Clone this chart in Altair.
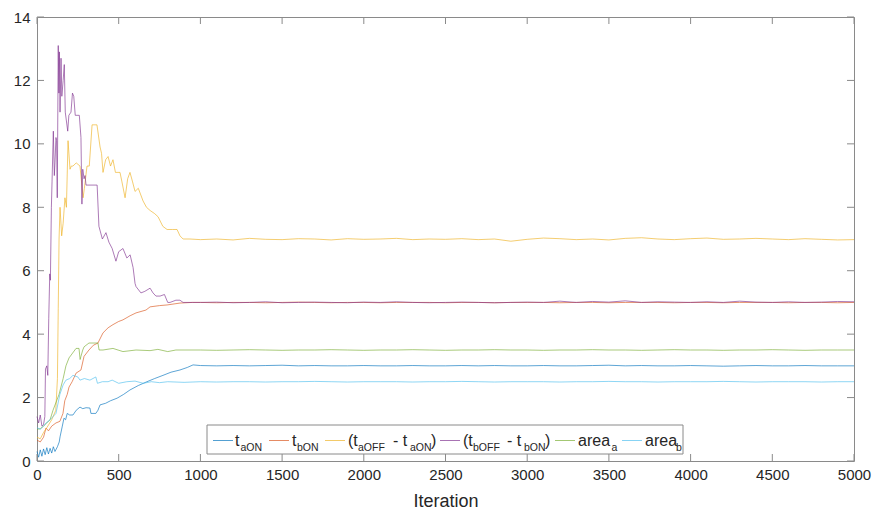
import altair as alt
import pandas as pd

# ---------------- data ----------------
series_names = ["t_aON", "t_bON", "(t_aOFF - t_aON)", "(t_bOFF - t_bON)", "area_a", "area_b"]
series_colors = ["#0072BD", "#D95319", "#EDB120", "#7E2F8E", "#77AC30", "#4DBEEE"]

blue_it = [0,10,20,30,40,50,60,70,80,90,100,110,125,136,141,155,165,175,185,200,220,240,263,280,300,324,330,360,373,386,420,450,490,530,569,620,673,720,771,820,875,920,955]
blue_val = [0.3,0.12,0.35,0.15,0.38,0.2,0.42,0.22,0.4,0.25,0.45,0.3,0.45,0.6,0.76,1.1,1.35,1.3,1.5,1.45,1.45,1.6,1.7,1.65,1.68,1.67,1.5,1.5,1.6,1.77,1.82,1.9,1.98,2.1,2.24,2.38,2.5,2.6,2.7,2.8,2.87,2.95,3.03]

orange_it = [0,20,40,55,70,90,116,140,159,170,185,196,215,239,269,288,318,345,373,404,435,465,500,526,570,606,667,692,750,796,875,950]
orange_val = [0.66,0.6,0.75,1.04,0.95,1.1,1.2,1.25,1.5,1.9,2.1,2.33,2.5,2.77,2.87,3.3,3.5,3.65,3.72,4.04,4.2,4.3,4.4,4.45,4.58,4.67,4.76,4.86,4.9,4.92,4.98,5.0]

yellow_it = [0,20,40,60,90,115,125,130,135,141,151,160,171,180,190,202,210,220,240,263,282,290,306,320,337,367,386,395,404,420,435,450,465,480,508,520,539,555,569,585,600,620,649,670,692,720,741,770,796,830,857,875,894,936]
yellow_val = [0.75,0.7,0.9,1.05,1.3,1.6,2.6,4.8,7.0,8.0,7.1,7.5,8.3,8.0,10.1,9.2,9.3,9.3,9.4,9.3,8.3,8.6,9.3,9.3,10.6,10.6,9.9,9.7,9.1,9.5,9.6,9.3,9.5,9.1,9.1,8.8,8.3,8.9,9.1,8.8,8.5,8.6,8.2,8.0,7.9,7.8,7.7,7.4,7.3,7.3,7.3,7.1,7.0,7.0]

purple_it = [0,10,20,30,40,48,52,60,66,72,78,82,88,92,100,106,110,116,120,124,130,134,137,141,147,152,160,167,173,188,195,208,217,225,234,259,269,275,280,288,294,300,361,368,379,400,422,440,460,483,500,526,550,570,588,600,606,636,660,692,710,728,753,780,800,814,850,875,894,950]
purple_val = [1.4,1.2,1.45,1.1,1.15,1.4,2.9,3.0,2.7,4.5,5.9,5.7,8.0,8.8,10.4,9.0,9.4,10.2,10.1,8.3,13.1,11.6,12.9,11.0,12.7,11.5,12.0,12.5,11.0,10.4,10.9,11.0,11.6,11.5,10.9,10.9,10.2,8.1,9.2,8.9,9.0,8.7,8.7,8.7,7.4,7.0,7.2,6.9,6.7,6.3,6.6,6.7,6.4,6.5,6.1,5.6,5.5,5.3,5.35,5.45,5.3,5.2,5.2,5.25,5.0,5.0,5.07,5.07,5.0,5.0]

green_it = [0,20,40,60,80,98,135,160,177,196,239,257,264,269,280,288,318,373,380,404,465,526,606,692,740,800,850,900]
green_val = [1.0,1.02,1.1,1.2,1.3,1.6,2.1,2.6,3.0,3.25,3.55,3.55,3.2,3.3,3.5,3.6,3.72,3.72,3.5,3.5,3.55,3.45,3.5,3.48,3.52,3.45,3.5,3.5]

lblue_it = [0,20,40,55,80,116,140,160,177,200,220,250,263,290,324,360,370,400,435,460,500,550,600,650,700,750,800,900]
lblue_val = [1.05,1.0,1.1,1.2,1.3,1.5,2.1,2.4,2.55,2.6,2.7,2.65,2.55,2.6,2.55,2.65,2.45,2.5,2.5,2.55,2.45,2.5,2.52,2.45,2.5,2.47,2.5,2.48]

# steady state, iterations 1000..5000 every 100
steady_it = list(range(1000, 5001, 100))
blue_ss = [3.01,3.0,3.01,3.0,3.01,3.02,3.0,3.01,3.0,3.0,3.01,3.0,3.0,3.01,3.0,3.0,3.01,3.0,3.01,3.0,3.0,3.01,3.0,3.0,3.01,3.02,3.0,3.01,3.0,3.0,3.01,3.0,2.99,3.0,3.01,3.0,3.0,3.01,3.0,3.0,3.0]
orange_ss = [5.0,4.99,5.0,5.0,4.99,5.0,5.01,5.0,4.99,5.0,5.0,4.99,5.0,5.0,5.0,4.99,5.0,5.0,4.99,5.0,5.0,5.0,4.99,5.0,5.0,4.99,5.0,5.0,5.0,4.99,5.0,5.0,4.99,5.0,5.0,5.0,4.99,5.0,5.0,4.99,5.0]
yellow_ss = [6.98,7.0,6.97,7.02,6.99,6.98,7.01,7.0,6.97,7.01,6.99,7.0,7.02,6.98,7.0,6.99,7.01,6.98,7.0,6.93,6.99,7.03,7.01,6.98,7.0,6.97,7.02,7.04,7.0,6.98,7.01,7.03,6.99,7.0,7.02,7.0,6.98,7.01,6.99,6.97,6.98]
purple_ss = [5.0,5.01,4.99,5.0,5.02,4.99,5.0,5.01,5.0,4.99,5.01,5.0,5.02,5.0,4.99,5.0,5.01,5.0,4.99,5.0,5.01,5.0,5.04,5.0,5.03,5.01,5.05,5.0,5.02,5.01,5.0,5.02,5.0,5.04,5.01,5.0,5.02,5.0,5.01,5.03,5.02]
green_ss = [3.5,3.49,3.5,3.51,3.5,3.49,3.5,3.5,3.51,3.5,3.49,3.5,3.5,3.51,3.5,3.49,3.5,3.5,3.51,3.5,3.5,3.49,3.5,3.5,3.51,3.5,3.5,3.49,3.5,3.51,3.5,3.5,3.49,3.5,3.5,3.51,3.5,3.49,3.5,3.5,3.5]
lblue_ss = [2.5,2.49,2.5,2.5,2.49,2.5,2.5,2.51,2.5,2.49,2.5,2.5,2.5,2.49,2.5,2.5,2.51,2.5,2.49,2.5,2.5,2.5,2.49,2.5,2.5,2.51,2.5,2.5,2.49,2.5,2.5,2.5,2.51,2.5,2.49,2.5,2.5,2.5,2.49,2.5,2.5]

x_ticks = list(range(0, 5001, 500))
y_ticks = list(range(0, 15, 2))

# ---------------- build table ----------------
parts = [
    (blue_it, blue_val, blue_ss),
    (orange_it, orange_val, orange_ss),
    (yellow_it, yellow_val, yellow_ss),
    (purple_it, purple_val, purple_ss),
    (green_it, green_val, green_ss),
    (lblue_it, lblue_val, lblue_ss),
]
rows = []
for k, (its, vals, ss) in enumerate(parts):
    assert len(its) == len(vals), k
    assert len(ss) == len(steady_it), k
    for i, v in zip(its + steady_it, vals + ss):
        rows.append({"series": series_names[k], "order": k, "it": i, "v": v})
df = pd.DataFrame(rows)
xt_df = pd.DataFrame({"it": x_ticks})
yt_df = pd.DataFrame({"v": y_ticks})

W, H = 817, 444
FONT = "Liberation Sans"
AX = "#8a8a8a"
TXT = "#262626"
TL = 7  # inward tick length

xs = alt.Scale(domain=[0, 5000], nice=False, zero=False)
ys = alt.Scale(domain=[0, 14], nice=False)

lines = alt.Chart(df).mark_line(strokeWidth=0.8, opacity=0.8).encode(
    x=alt.X("it:Q", scale=xs, axis=alt.Axis(
        orient="bottom", values=x_ticks, format="d", ticks=False, domain=False, grid=False,
        labelFont=FONT, labelFontSize=15, labelColor=TXT, labelPadding=6,
        title="Iteration", titleFont=FONT, titleFontSize=18, titleFontWeight="normal",
        titleColor=TXT, titlePadding=10, labelFlush=False)),
    y=alt.Y("v:Q", scale=ys, axis=alt.Axis(
        orient="left", values=y_ticks, format="d", ticks=False, domain=False, grid=False,
        labelFont=FONT, labelFontSize=15, labelColor=TXT, labelPadding=7,
        title=None, labelFlush=False)),
    color=alt.Color("series:N", scale=alt.Scale(domain=series_names, range=series_colors), legend=None),
    detail="order:O",
)

# inward ticks on all four sides of the box, placed through the scales
xt = alt.Chart(xt_df)
yt = alt.Chart(yt_df)
tick_layers = [
    xt.mark_rule(color=AX, strokeWidth=1).encode(x=alt.X("it:Q", scale=xs), y=alt.value(H), y2=alt.value(H - TL)),
    xt.mark_rule(color=AX, strokeWidth=1).encode(x=alt.X("it:Q", scale=xs), y=alt.value(0), y2=alt.value(TL)),
    yt.mark_rule(color=AX, strokeWidth=1).encode(y=alt.Y("v:Q", scale=ys), x=alt.value(0), x2=alt.value(TL)),
    yt.mark_rule(color=AX, strokeWidth=1).encode(y=alt.Y("v:Q", scale=ys), x=alt.value(W), x2=alt.value(W - TL)),
]

# ---------------- custom legend (with subscripts) ----------------
one = alt.Chart(pd.DataFrame({"d": [0]}))
OX, OY = 37, 17
leg_layers = [
    one.mark_rect(fill="white", stroke=AX, strokeWidth=1).encode(
        x=alt.value(207 - OX), x2=alt.value(683 - OX),
        y=alt.value(425 - OY), y2=alt.value(454 - OY))
]
line_ends = [233, 289, 345, 460, 575, 642]
for k, xe in enumerate(line_ends):
    leg_layers.append(one.mark_rule(color=series_colors[k], strokeWidth=0.8, opacity=0.85).encode(
        x=alt.value(xe - 20 - OX), x2=alt.value(xe - OX), y=alt.value(440.5 - OY)))

# (text, x, is_subscript)
leg_text = [
    ("t", 235, False), ("aON", 240.5, True),
    ("t", 292, False), ("bON", 297, True),
    ("(t", 348, False), ("aOFF", 358, True), ("- t", 393, False), ("aON", 410, True), (")", 431, False),
    ("(t", 463, False), ("bOFF", 473, True), ("- t", 507, False), ("bON", 524, True), (")", 545, False),
    ("area", 578, False), ("a", 611.5, True),
    ("area", 645, False), ("b", 676, True),
]
for txt, xx, sub in leg_text:
    leg_layers.append(one.mark_text(
        text=txt, align="left", baseline="alphabetic", font=FONT,
        fontSize=10.5 if sub else 16, color=TXT).encode(
        x=alt.value(xx - OX), y=alt.value((450.5 if sub else 446) - OY)))

chart = alt.layer(
    lines, *tick_layers, *leg_layers
).properties(
    width=W, height=H,
    autosize=alt.AutoSizeParams(type="none"),
    padding={"left": OX, "top": OY, "right": 874 - OX - W, "bottom": 510 - OY - H},
    background="white",
).configure_view(stroke=AX, strokeWidth=1)

chart.save("out.html", embed_options={"renderer": "svg", "actions": False})
